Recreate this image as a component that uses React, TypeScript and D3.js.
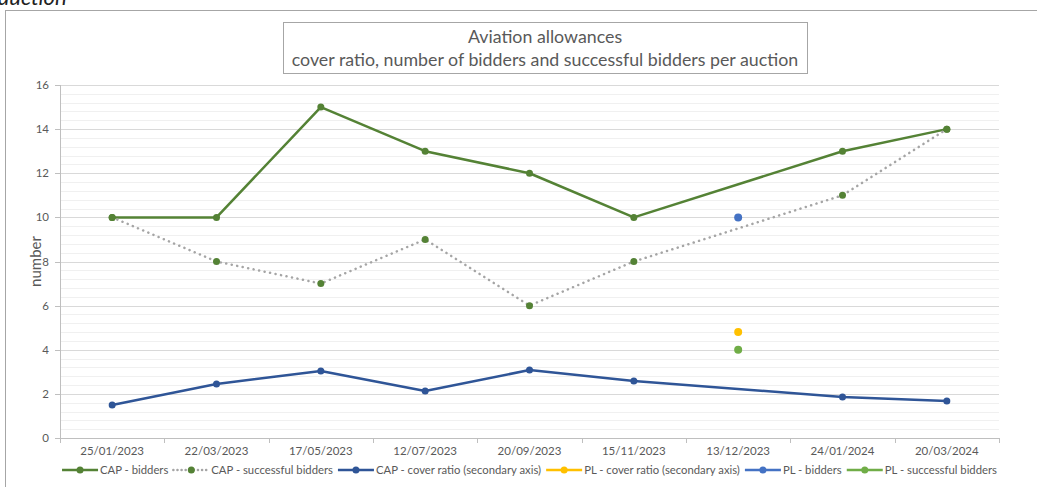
import { useEffect, useRef } from 'react';
import * as d3 from 'd3';

const dates = ['25/01/2023', '22/03/2023', '17/05/2023', '12/07/2023', '20/09/2023', '15/11/2023', '13/12/2023', '24/01/2024', '20/03/2024'];
const capBidders = [10, 10, 15, 13, 12, 10, null, 13, 14];
const capSuccessful = [10, 8, 7, 9, 6, 8, null, 11, 14];
const capCoverRatio = [1.5, 2.45, 3.04, 2.13, 3.08, 2.58, null, 1.86, 1.68];
const plCoverRatio = [null, null, null, null, null, null, 4.8, null, null];
const plBidders = [null, null, null, null, null, null, 10, null, null];
const plSuccessful = [null, null, null, null, null, null, 4, null, null];
const yTicks = [0, 2, 4, 6, 8, 10, 12, 14, 16];
const titleLines = ['Aviation allowances', 'cover ratio, number of bidders and successful bidders per auction'];

const FONT = 'Lato, "Open Sans", sans-serif';

export default function App() {
  const svgRef = useRef<SVGSVGElement>(null);
  const width = 1037;
  const height = 487;
  const m = { left: 60, right: 999, top: 85, bottom: 438 };

  useEffect(() => {
    if (!svgRef.current) return;
    const svg = d3.select(svgRef.current);
    svg.selectAll('*').remove();

    const x = d3.scaleBand<string>().domain(dates).range([m.left, m.right]);
    const cx = (i: number) => (x(dates[i]) as number) + x.bandwidth() / 2;
    const y = d3.scaleLinear().domain([0, 16]).range([m.bottom, m.top]);

    // section heading, partly above the top of the picture (as in the source page)
    svg.append('text')
      .attr('x', -2).attr('y', 5)
      .attr('font-family', FONT).attr('font-style', 'italic')
      .attr('font-size', 22).attr('fill', '#222')
      .text('auction');

    // chart frame
    svg.append('rect')
      .attr('x', 5.5).attr('y', 10.5)
      .attr('width', 1100).attr('height', 600)
      .attr('fill', 'white').attr('stroke', '#a6a6a6');

    // minor gridlines every 0.4
    const minor = d3.range(0, 16.01, 0.4).filter(v => Math.abs(v / 2 - Math.round(v / 2)) > 0.01);
    svg.append('g').selectAll('line').data(minor).join('line')
      .attr('x1', m.left).attr('x2', m.right)
      .attr('y1', d => Math.round(y(d)) + 0.5).attr('y2', d => Math.round(y(d)) + 0.5)
      .attr('stroke', '#f0f0f0');
    svg.append('g').selectAll('line').data(yTicks.filter(d => d > 0)).join('line')
      .attr('x1', m.left).attr('x2', m.right)
      .attr('y1', d => Math.round(y(d)) + 0.5).attr('y2', d => Math.round(y(d)) + 0.5)
      .attr('stroke', '#d9d9d9');

    // axes
    const axisColor = '#bfbfbf';
    svg.append('line')
      .attr('x1', m.left + 0.5).attr('x2', m.left + 0.5)
      .attr('y1', m.top).attr('y2', m.bottom)
      .attr('stroke', axisColor);
    svg.append('g').selectAll('line').data(yTicks).join('line')
      .attr('x1', m.left - 5).attr('x2', m.left)
      .attr('y1', d => Math.round(y(d)) + 0.5).attr('y2', d => Math.round(y(d)) + 0.5)
      .attr('stroke', axisColor);
    svg.append('g').selectAll('text').data(yTicks).join('text')
      .attr('x', 49).attr('y', d => y(d) + 4)
      .attr('text-anchor', 'end')
      .attr('font-family', FONT).attr('font-size', 11.5).attr('fill', '#595959')
      .text(d => d);

    svg.append('line')
      .attr('x1', m.left).attr('x2', m.right)
      .attr('y1', m.bottom + 0.5).attr('y2', m.bottom + 0.5)
      .attr('stroke', axisColor);
    const bounds = dates.map(d => x(d) as number).concat([m.right]);
    svg.append('g').selectAll('line').data(bounds).join('line')
      .attr('x1', d => Math.round(d) + 0.5).attr('x2', d => Math.round(d) + 0.5)
      .attr('y1', m.bottom).attr('y2', m.bottom + 5)
      .attr('stroke', axisColor);
    svg.append('g').selectAll('text').data(dates).join('text')
      .attr('x', (_, i) => cx(i)).attr('y', 455)
      .attr('text-anchor', 'middle')
      .attr('font-family', FONT).attr('font-size', 11.5).attr('fill', '#595959')
      .text(d => d);

    svg.append('text')
      .attr('transform', `translate(41,${(m.top + m.bottom) / 2}) rotate(-90)`)
      .attr('text-anchor', 'middle')
      .attr('font-family', FONT).attr('font-size', 15).attr('fill', '#595959')
      .text('number');

    // title box
    svg.append('rect')
      .attr('x', 283.5).attr('y', 22.5).attr('width', 524).attr('height', 51)
      .attr('fill', 'white').attr('stroke', '#a6a6a6');
    titleLines.forEach((t, i) => {
      svg.append('text')
        .attr('x', 545).attr('y', 43 + i * 23)
        .attr('text-anchor', 'middle')
        .attr('font-family', FONT).attr('font-size', 17.8).attr('fill', '#595959')
        .text(t);
    });

    // series
    type S = { name: string; values: (number | null)[]; color: string; markerColor: string; width: number; dash?: string; r: number };
    const series: S[] = [
      { name: 'CAP - bidders', values: capBidders, color: '#548235', markerColor: '#548235', width: 2.5, r: 3.5 },
      { name: 'CAP - successful bidders', values: capSuccessful, color: '#a5a5a5', markerColor: '#548235', width: 2.5, dash: '0.1 5.5', r: 3.5 },
      { name: 'CAP - cover ratio (secondary axis)', values: capCoverRatio, color: '#2f5597', markerColor: '#2f5597', width: 2.5, r: 3.5 },
      { name: 'PL - cover ratio (secondary axis)', values: plCoverRatio, color: '#ffc000', markerColor: '#ffc000', width: 2.5, r: 4 },
      { name: 'PL - bidders', values: plBidders, color: '#4472c4', markerColor: '#4472c4', width: 2.5, r: 4 },
      { name: 'PL - successful bidders', values: plSuccessful, color: '#70ad47', markerColor: '#70ad47', width: 2.5, r: 4 },
    ];

    const line = d3.line<[number, number]>().x(d => d[0]).y(d => d[1]);
    series.forEach(s => {
      const pts = s.values
        .map((v, i) => (v == null ? null : [cx(i), y(v)] as [number, number]))
        .filter((p): p is [number, number] => p !== null);
      if (pts.length > 1) {
        svg.append('path')
          .datum(pts)
          .attr('d', line)
          .attr('fill', 'none')
          .attr('stroke', s.color)
          .attr('stroke-width', s.width)
          .attr('stroke-linecap', s.dash ? 'round' : 'butt')
          .attr('stroke-linejoin', 'round')
          .attr('stroke-dasharray', s.dash ?? null);
      }
      svg.append('g').selectAll('circle').data(pts).join('circle')
        .attr('cx', d => d[0]).attr('cy', d => d[1])
        .attr('r', s.r).attr('fill', s.markerColor);
    });

    // legend
    const lg = svg.append('g');
    let lx = 0;
    const ly = 470;
    series.forEach(s => {
      const item = lg.append('g').attr('transform', `translate(${lx},0)`);
      item.append('line')
        .attr('x1', 0).attr('x2', 36).attr('y1', ly).attr('y2', ly)
        .attr('stroke', s.color).attr('stroke-width', s.width)
        .attr('stroke-linecap', s.dash ? 'round' : 'butt')
        .attr('stroke-dasharray', s.dash ? '0.1 4' : null);
      item.append('circle').attr('cx', 18).attr('cy', ly).attr('r', 3.5).attr('fill', s.markerColor);
      const t = item.append('text')
        .attr('x', 38).attr('y', ly + 4)
        .attr('font-family', FONT).attr('font-size', 11.3).attr('fill', '#595959')
        .text(s.name);
      const w = (t.node() as SVGTextElement).getComputedTextLength();
      lx += 38 + w + 5;
    });
    const total = lx - 5;
    lg.attr('transform', `translate(${(m.left + m.right) / 2 - total / 2},0)`);
  }, []);

  return (
    <svg
      ref={svgRef}
      width={width}
      height={height}
      viewBox={`0 0 ${width} ${height}`}
      style={{ position: 'absolute', left: 0, top: 0, background: 'white' }}
    />
  );
}
